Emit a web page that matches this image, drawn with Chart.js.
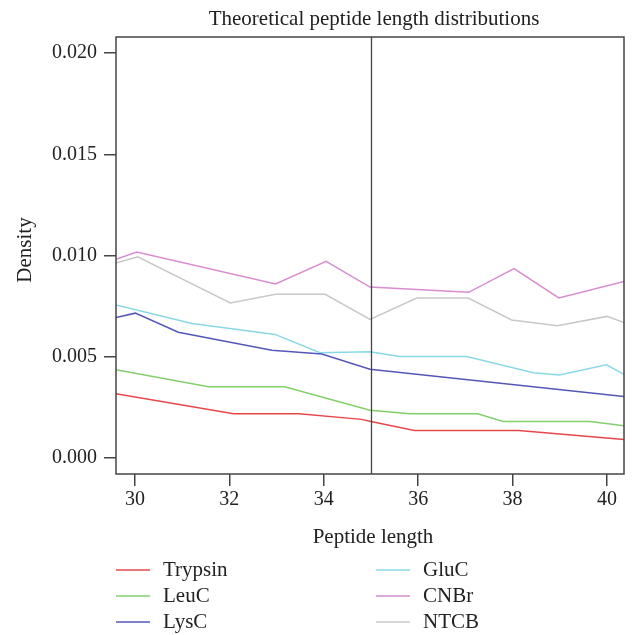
<!DOCTYPE html>
<html>
<head>
<meta charset="utf-8">
<title>Theoretical peptide length distributions</title>
<script src="https://cdn.jsdelivr.net/npm/chart.js@4.4.1/dist/chart.umd.min.js"></script>
<style>
  html, body { margin: 0; padding: 0; background: #fff; }
  #wrap { width: 632px; height: 635px; }
</style>
</head>
<body>
<div id="wrap"><canvas id="chart" width="632" height="635"></canvas></div>
<script>
const chartTitle = "Theoretical peptide length distributions";
const xTitle = "Peptide length";
const yTitle = "Density";

const xTicks = [30, 32, 34, 36, 38, 40];
const yTicks = [0, 0.005, 0.010, 0.015, 0.020];
const cutoff = 35;

const trypsinX = [29.6, 32.09, 33.48, 34.8, 35.0, 35.92, 38.13, 40.36];
const trypsinY = [0.00317, 0.00218, 0.00218, 0.00190, 0.00180, 0.00135, 0.00135, 0.00091];

const leucX = [29.6, 31.56, 33.17, 34.98, 35.83, 37.26, 37.8, 39.64, 40.36];
const leucY = [0.00435, 0.00351, 0.00351, 0.00235, 0.00218, 0.00218, 0.0018, 0.0018, 0.00158];

const lyscX = [29.6, 30.01, 30.92, 32.9, 33.96, 34.98, 40.36];
const lyscY = [0.00694, 0.00715, 0.00621, 0.00532, 0.00513, 0.00438, 0.00303];

const glucX = [29.6, 31.21, 32.97, 33.92, 34.98, 35.61, 37.03, 38.44, 38.99, 39.99, 40.36];
const glucY = [0.00755, 0.00664, 0.0061, 0.00519, 0.00524, 0.00501, 0.00501, 0.0042, 0.00409, 0.0046, 0.00412];

const cnbrX = [29.6, 30.04, 32.98, 34.05, 34.98, 37.07, 38.03, 38.98, 40.36];
const cnbrY = [0.00981, 0.01017, 0.00859, 0.00971, 0.00844, 0.00818, 0.00935, 0.0079, 0.00872];

const ntcbX = [29.6, 30.06, 32.02, 32.98, 34.03, 34.98, 35.97, 37.06, 37.98, 38.95, 40.0, 40.36];
const ntcbY = [0.00963, 0.00994, 0.00765, 0.00808, 0.00808, 0.00684, 0.0079, 0.0079, 0.00681, 0.00653, 0.00699, 0.00668];

const series = [
    { label: "Trypsin", xs: trypsinX, ys: trypsinY, color: "#e8474a" },
    { label: "LeuC", xs: leucX, ys: leucY, color: "#83cf6c" },
    { label: "LysC", xs: lyscX, ys: lyscY, color: "#5457b8" },
    { label: "GluC", xs: glucX, ys: glucY, color: "#8ad8e6" },
    { label: "CNBr", xs: cnbrX, ys: cnbrY, color: "#d98ccf" },
    { label: "NTCB", xs: ntcbX, ys: ntcbY, color: "#c8c8c8" },
];

const serif = "'Liberation Serif', 'DejaVu Serif', serif";
const ink = "#222";
const axisColor = "#444";

// box, cutoff line, titles and the two-column legend
const decorations = {
    id: "decorations",
    afterDatasetsDraw(chart) {
        const { ctx, chartArea: a, scales } = chart;
        ctx.save();
        ctx.strokeStyle = axisColor;
        ctx.lineWidth = 1.5;
        ctx.strokeRect(a.left, a.top, a.right - a.left, a.bottom - a.top);

        const cx = Math.round(scales.x.getPixelForValue(cutoff)) + 0.5;
        ctx.lineWidth = 1.3;
        ctx.beginPath();
        ctx.moveTo(cx, a.top);
        ctx.lineTo(cx, a.bottom);
        ctx.stroke();

        ctx.fillStyle = ink;
        ctx.font = "21px " + serif;
        ctx.textAlign = "center";
        ctx.textBaseline = "middle";
        ctx.fillText(chartTitle, (a.left + a.right) / 2 + 4, 19);
        ctx.fillText(xTitle, (a.left + a.right) / 2 + 3, 537);

        ctx.save();
        ctx.translate(25, 250);
        ctx.rotate(-Math.PI / 2);
        ctx.fillText(yTitle, 0, 0);
        ctx.restore();

        // legend: three rows per column
        ctx.textAlign = "left";
        ctx.font = "21px " + serif;
        series.forEach((s, i) => {
            const col = Math.floor(i / 3);
            const row = i % 3;
            const lx = col === 0 ? 116 : 376;
            const ly = 570 + row * 26;
            ctx.strokeStyle = s.color;
            ctx.lineWidth = 1.5;
            ctx.beginPath();
            ctx.moveTo(lx, ly);
            ctx.lineTo(lx + 34, ly);
            ctx.stroke();
            ctx.fillStyle = ink;
            ctx.fillText(s.label, lx + 47, ly);
        });
        ctx.restore();
    }
};

new Chart(document.getElementById("chart"), {
    type: "line",
    data: {
        datasets: series.map(s => ({
            label: s.label,
            data: s.xs.map((x, i) => ({ x, y: s.ys[i] })),
            borderColor: s.color,
            borderWidth: 1.5,
            pointRadius: 0,
            tension: 0,
            fill: false,
        }))
    },
    options: {
        responsive: false,
        animation: false,
        layout: { padding: { top: 37, right: 8, left: 0, bottom: 0 } },
        plugins: {
            legend: { display: false },
            tooltip: { enabled: false },
        },
        scales: {
            x: {
                type: "linear",
                min: 29.6,
                max: 40.36,
                afterBuildTicks: axis => { axis.ticks = xTicks.map(v => ({ value: v })); },
                afterFit: axis => { axis.height = 161; },
                grid: { drawOnChartArea: false, tickLength: 12, color: axisColor, lineWidth: 1.5 },
                border: { display: false },
                ticks: {
                    color: ink,
                    font: { family: serif, size: 20 },
                    padding: 2,
                    maxRotation: 0,
                    callback: v => String(v),
                },
            },
            y: {
                type: "linear",
                min: -0.0008,
                max: 0.0208,
                afterBuildTicks: axis => { axis.ticks = yTicks.map(v => ({ value: v })); },
                afterFit: axis => { axis.width = 116; },
                grid: { drawOnChartArea: false, tickLength: 12, color: axisColor, lineWidth: 1.5 },
                border: { display: false },
                ticks: {
                    color: ink,
                    font: { family: serif, size: 20 },
                    padding: 7,
                    callback: v => v.toFixed(3),
                },
            },
        },
    },
    plugins: [decorations],
});
</script>
</body>
</html>
